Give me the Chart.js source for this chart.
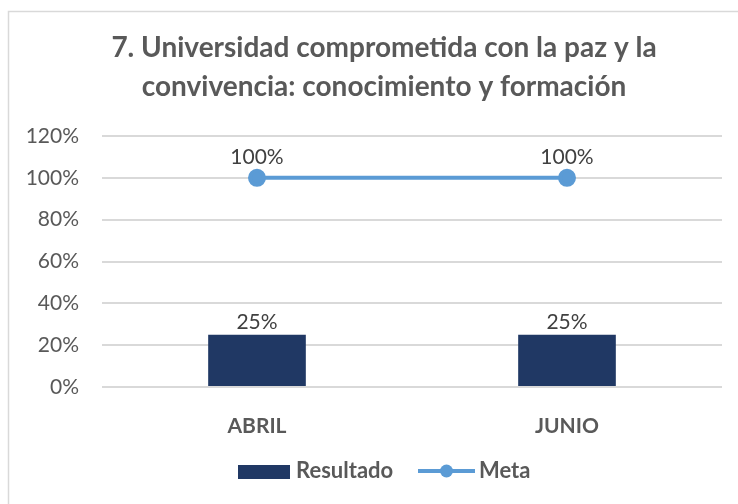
<!DOCTYPE html>
<html>
<head>
<meta charset="utf-8">
<script src="https://cdn.jsdelivr.net/npm/chart.js@4/dist/chart.umd.min.js"></script>
<style>
  html, body { margin: 0; padding: 0; background: #fff; }
  #wrap { width: 738px; height: 504px; }
</style>
</head>
<body>
<div id="wrap"><canvas id="myChart"></canvas></div>
<script>
// datos del grafico
const categorias = ['ABRIL', 'JUNIO'];
const resultado = [0.25, 0.25];
const meta = [1.0, 1.0];
const tituloLineas = ['7. Universidad comprometida con la paz y la', 'convivencia: conocimiento y formación'];
const nombresSeries = ['Resultado', 'Meta'];

const colorBarra = '#203864';
const colorLinea = '#5B9BD5';
const fuente = 'Lato, "Open Sans", sans-serif';

const pct = v => Math.round(v * 100) + '%';

// marco, titulo, etiquetas y leyenda
const extras = {
    id: 'extras',
    beforeDraw(chart) {
        const c = chart.ctx;
        c.save();
        c.fillStyle = '#fff';
        c.fillRect(0, 0, chart.width, chart.height);
        c.strokeStyle = '#d9d9d9';
        c.lineWidth = 1.5;
        c.beginPath();
        c.moveTo(8.5, chart.height);
        c.lineTo(8.5, 11.5);
        c.lineTo(chart.width, 11.5);
        c.stroke();
        c.restore();
    },
    afterDatasetsDraw(chart) {
        const c = chart.ctx;
        c.save();
        c.font = '21px ' + fuente;
        c.fillStyle = '#404040';
        c.textAlign = 'center';
        c.textBaseline = 'middle';
        chart.data.datasets.forEach((ds, i) => {
            const m = chart.getDatasetMeta(i);
            m.data.forEach((el, j) => {
                const off = ds.type === 'line' ? 21 : 12;
                c.fillText(pct(ds.data[j]), el.x, el.y - off);
            });
        });
        c.restore();
    },
    afterDraw(chart) {
        const c = chart.ctx;
        c.save();
        // titulo
        c.font = 'bold 28px ' + fuente;
        c.fillStyle = '#595959';
        c.textAlign = 'center';
        c.textBaseline = 'middle';
        c.fillText(tituloLineas[0], 384, 48);
        c.fillText(tituloLineas[1], 384, 87);
        // leyenda
        const y = 471;
        c.fillStyle = colorBarra;
        c.fillRect(238, 465, 52, 14);
        c.font = 'bold 22px ' + fuente;
        c.fillStyle = '#595959';
        c.textAlign = 'left';
        c.fillText(nombresSeries[0], 296, y);
        c.strokeStyle = colorLinea;
        c.lineWidth = 4;
        c.beginPath();
        c.moveTo(418, y);
        c.lineTo(475, y);
        c.stroke();
        c.fillStyle = colorLinea;
        c.beginPath();
        c.arc(446.5, y, 6.5, 0, Math.PI * 2);
        c.fill();
        c.fillStyle = '#595959';
        c.fillText(nombresSeries[1], 479, y);
        c.restore();
    }
};

new Chart(document.getElementById('myChart'), {
    data: {
        labels: categorias,
        datasets: [
            {
                type: 'line',
                label: nombresSeries[1],
                data: meta,
                borderColor: colorLinea,
                backgroundColor: colorLinea,
                borderWidth: 4,
                pointRadius: 7,
                pointHoverRadius: 7,
                order: 0
            },
            {
                type: 'bar',
                label: nombresSeries[0],
                data: resultado,
                backgroundColor: colorBarra,
                categoryPercentage: 1,
                barPercentage: 0.315,
                order: 1
            }
        ]
    },
    options: {
        responsive: true,
        maintainAspectRatio: false,
        animation: false,
        layout: { padding: { left: 0, right: 16, top: 136, bottom: 57 } },
        plugins: {
            legend: { display: false },
            title: { display: false },
            tooltip: { enabled: false }
        },
        scales: {
            x: {
                grid: { display: false },
                border: { display: false },
                ticks: {
                    color: '#595959',
                    font: { family: fuente, size: 21, weight: 'bold' },
                    padding: 19
                },
                afterFit(s) { s.height = 60; }
            },
            y: {
                min: 0,
                max: 1.2,
                grid: { color: '#d9d9d9', lineWidth: 2, drawTicks: false },
                border: { display: false },
                ticks: {
                    stepSize: 0.2,
                    color: '#595959',
                    font: { family: fuente, size: 21 },
                    padding: 23,
                    callback: v => pct(v)
                },
                afterFit(s) { s.width = 102; }
            }
        }
    },
    plugins: [extras]
});
</script>
</body>
</html>
